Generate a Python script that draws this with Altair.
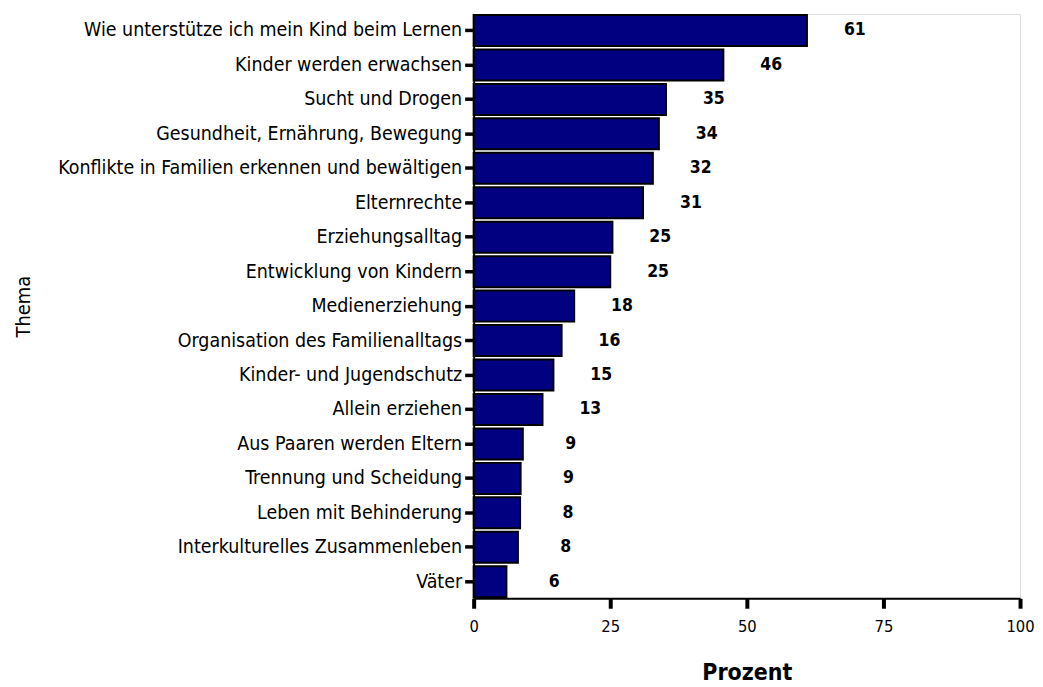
import altair as alt
import pandas as pd

themes = [
    "Wie unterstütze ich mein Kind beim Lernen",
    "Kinder werden erwachsen",
    "Sucht und Drogen",
    "Gesundheit, Ernährung, Bewegung",
    "Konflikte in Familien erkennen und bewältigen",
    "Elternrechte",
    "Erziehungsalltag",
    "Entwicklung von Kindern",
    "Medienerziehung",
    "Organisation des Familienalltags",
    "Kinder- und Jugendschutz",
    "Allein erziehen",
    "Aus Paaren werden Eltern",
    "Trennung und Scheidung",
    "Leben mit Behinderung",
    "Interkulturelles Zusammenleben",
    "Väter",
]
bar_values = [61.0, 45.7, 35.2, 33.9, 32.8, 31.0, 25.4, 25.0, 18.4, 16.1, 14.6, 12.6, 9.0, 8.6, 8.5, 8.1, 6.0]
value_labels = ["61", "46", "35", "34", "32", "31", "25", "25", "18", "16", "15", "13", "9", "9", "8", "8", "6"]

df = pd.DataFrame({"Thema": themes, "Prozent": bar_values, "Label": value_labels})

FONT = "DejaVu Sans Condensed, Liberation Sans, sans-serif"

y_enc = alt.Y(
    "Thema:N",
    sort=themes,
    scale=alt.Scale(paddingInner=0.1, paddingOuter=0.03),
    axis=alt.Axis(
        title="Thema",
        titleFont=FONT,
        titleFontSize=20,
        titleFontWeight="normal",
        titleColor="black",
        titleX=-441,
        titleY=293,
        labelFont=FONT,
        labelFontSize=19.5,
        labelColor="black",
        labelPadding=3,
        tickSize=9,
        tickWidth=3.5,
        tickColor="black",
        domainColor="black",
        domainWidth=2,
        labelLimit=600,
    ),
)

x_enc = alt.X(
    "Prozent:Q",
    scale=alt.Scale(domain=[0, 100], nice=False),
    axis=alt.Axis(
        title="Prozent",
        values=[0, 25, 50, 75, 100],
        grid=False,
        titleFont=FONT,
        titleFontSize=23,
        titleFontWeight="bold",
        titleColor="black",
        titlePadding=27,
        labelFont=FONT,
        labelFontSize=16.5,
        labelColor="black",
        labelPadding=10,
        labelFlush=False,
        tickSize=10,
        tickWidth=4,
        tickColor="black",
        domainColor="black",
        domainWidth=2,
    ),
)

bars = alt.Chart(df).mark_bar(
    color="#000080", stroke="black", strokeWidth=2
).encode(x=x_enc, y=y_enc)

text = alt.Chart(df).mark_text(
    align="center", baseline="middle", dx=48, font=FONT, fontSize=17.5, fontWeight="bold", color="black"
).encode(x="Prozent:Q", y=alt.Y("Thema:N", sort=themes), text="Label:N")

chart = (bars + text).properties(
    width=548, height=586,
    padding={"left": 5, "top": 5, "right": 0, "bottom": 0},
).configure_view(
    stroke="black", strokeWidth=2
).configure(background="white")

chart.save("out.html", embed_options={"renderer": "svg", "actions": False})
